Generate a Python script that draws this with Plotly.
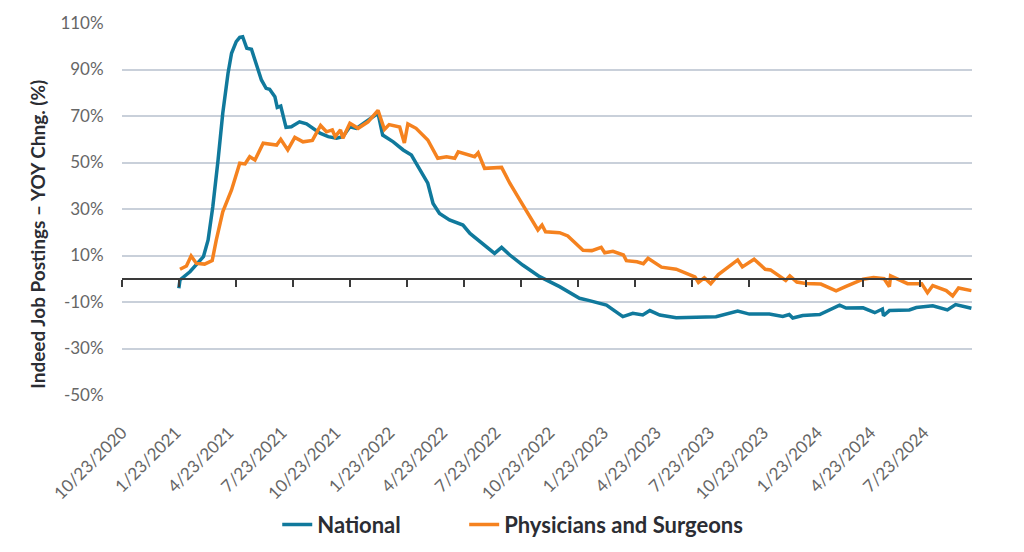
"""Indeed job postings, YoY change: national vs. physicians and surgeons."""
import plotly.graph_objects as go

# Werte (Stuetzpunkte der Linien)
national_dates = [
    "2021-01-28", "2021-01-30", "2021-02-16", "2021-03-11", "2021-03-19", "2021-03-27",
    "2021-04-05", "2021-04-13", "2021-04-22", "2021-04-28", "2021-05-06", "2021-05-12",
    "2021-05-17", "2021-05-24", "2021-06-01", "2021-06-09", "2021-06-18", "2021-06-26",
    "2021-07-02", "2021-07-11", "2021-07-15", "2021-07-21", "2021-07-30", "2021-08-08",
    "2021-08-22", "2021-09-03", "2021-09-14", "2021-09-26", "2021-10-10", "2021-10-24",
    "2021-11-04", "2021-11-16", "2021-11-27", "2021-12-14", "2021-12-31", "2022-01-03",
    "2022-01-11", "2022-01-29", "2022-02-15", "2022-03-01", "2022-03-09", "2022-03-18",
    "2022-03-29", "2022-04-07", "2022-04-18", "2022-05-05", "2022-05-28", "2022-06-09",
    "2022-07-01", "2022-07-21", "2022-08-02", "2022-08-16", "2022-09-07", "2022-10-06",
    "2022-11-09", "2022-12-13", "2022-12-30", "2023-01-28", "2023-02-25", "2023-03-14",
    "2023-03-31", "2023-04-12", "2023-04-29", "2023-05-27", "2023-06-30", "2023-08-03",
    "2023-09-09", "2023-09-29", "2023-11-02", "2023-11-25", "2023-12-06", "2023-12-12",
    "2023-12-29", "2024-01-27", "2024-03-01", "2024-03-12", "2024-04-10", "2024-04-30",
    "2024-05-13", "2024-05-15", "2024-05-25", "2024-06-28", "2024-07-10", "2024-08-07",
    "2024-09-01", "2024-09-15", "2024-10-12",
]
national_values = [
    -4.1, -0.5, 3.0, 9.5, 16.7, 31.0,
    51.1, 71.2, 88.4, 97.0, 102.0, 103.8,
    104.1, 99.1, 98.7, 92.7, 85.5, 81.9,
    81.5, 78.3, 73.7, 74.3, 65.1, 65.4,
    67.5, 66.6, 64.7, 62.6, 61.1, 60.4,
    61.1, 65.4, 64.7, 67.5, 70.4, 71.2,
    61.8, 58.9, 55.4, 53.2, 49.7, 46.0,
    41.1, 32.4, 28.1, 25.3, 23.1, 19.5,
    15.2, 10.9, 13.5, 10.2, 5.9, 0.9,
    -3.4, -8.4, -9.4, -11.3, -16.3, -14.9,
    -15.6, -13.7, -15.6, -16.8, -16.6, -16.3,
    -13.9, -15.2, -15.2, -16.2, -15.4, -16.9,
    -15.8, -15.4, -11.4, -12.6, -12.5, -14.6,
    -13.0, -15.9, -13.7, -13.4, -12.4, -11.6,
    -13.4, -11.1, -12.7,
]

physician_dates = [
    "2021-01-30", "2021-02-10", "2021-02-18", "2021-02-27", "2021-03-13", "2021-03-26",
    "2021-04-02", "2021-04-13", "2021-04-28", "2021-05-12", "2021-05-21", "2021-05-29",
    "2021-06-07", "2021-06-21", "2021-07-14", "2021-07-21", "2021-08-02", "2021-08-14",
    "2021-08-28", "2021-09-13", "2021-09-27", "2021-10-07", "2021-10-17", "2021-10-22",
    "2021-10-31", "2021-11-04", "2021-11-16", "2021-11-30", "2021-12-17", "2022-01-03",
    "2022-01-14", "2022-01-22", "2022-02-09", "2022-02-17", "2022-02-23", "2022-03-09",
    "2022-03-29", "2022-04-15", "2022-04-30", "2022-05-14", "2022-05-20", "2022-06-03",
    "2022-06-17", "2022-06-23", "2022-07-04", "2022-08-02", "2022-08-16", "2022-09-02",
    "2022-09-13", "2022-10-03", "2022-10-10", "2022-10-16", "2022-11-09", "2022-11-23",
    "2022-12-19", "2023-01-03", "2023-01-19", "2023-01-25", "2023-02-08", "2023-02-26",
    "2023-03-03", "2023-03-21", "2023-04-01", "2023-04-09", "2023-05-02", "2023-05-27",
    "2023-06-28", "2023-07-04", "2023-07-14", "2023-07-25", "2023-08-07", "2023-09-09",
    "2023-09-17", "2023-10-07", "2023-10-26", "2023-11-04", "2023-11-30", "2023-12-07",
    "2023-12-19", "2024-01-03", "2024-01-29", "2024-02-24", "2024-03-12", "2024-04-10",
    "2024-04-28", "2024-05-16", "2024-05-25", "2024-05-27", "2024-06-25", "2024-07-19",
    "2024-07-29", "2024-08-07", "2024-08-30", "2024-09-10", "2024-09-20", "2024-10-12",
]
physician_values = [
    4.1, 5.5, 9.8, 6.6, 6.3, 7.8,
    16.7, 28.8, 38.2, 49.7, 49.4, 52.5,
    51.1, 58.3, 57.5, 60.0, 55.4, 60.8,
    58.9, 59.5, 65.9, 63.2, 64.0, 61.1,
    64.0, 60.4, 66.9, 64.7, 67.5, 72.4,
    64.2, 66.3, 65.3, 58.4, 66.6, 64.7,
    59.7, 51.8, 52.5, 51.8, 54.6, 53.7,
    52.5, 54.2, 47.5, 47.9, 41.1, 33.9,
    29.1, 21.0, 23.1, 20.2, 19.8, 18.4,
    12.2, 12.1, 13.5, 11.2, 11.8, 10.2,
    7.8, 7.3, 6.5, 8.8, 5.0, 4.1,
    0.8, -1.6, 0.4, -2.1, 1.8, 8.1,
    5.1, 8.4, 4.1, 3.8, -0.7, 1.2,
    -1.4, -2.0, -2.3, -5.2, -3.3, -0.2,
    0.5, 0.0, -3.4, 1.2, -2.1, -2.1,
    -6.0, -2.9, -5.1, -7.4, -4.0, -5.1,
]

y_ticks = [-50, -30, -10, 10, 30, 50, 70, 90, 110]
y_labels = [f"{v}%" for v in y_ticks]
x_range = ["2020-10-23", "2024-10-13"]
y_title = "Indeed Job Postings – YOY Chng. (%)"

TEAL = "#10799c"
ORANGE = "#f5821f"
GRID = "#c9d0da"
AXIS = "#3a3a3a"
FONT = "Lato, 'Open Sans', sans-serif"

fig = go.Figure()
fig.add_trace(go.Scatter(
    x=national_dates, y=national_values, mode="lines", name="National",
    line=dict(color=TEAL, width=3.5), legend="legend",
))
fig.add_trace(go.Scatter(
    x=physician_dates, y=physician_values, mode="lines", name="Physicians and Surgeons",
    line=dict(color=ORANGE, width=3.5), legend="legend2",
))
# unsichtbarer Trace, damit die Null-Achse (x2) gezeichnet wird
fig.add_trace(go.Scatter(
    x=national_dates[:1], y=[None], xaxis="x2", showlegend=False, hoverinfo="skip",
))

legend_font = dict(size=22, color="#2b2d33", weight="bold")

fig.update_layout(
    width=1016, height=544,
    paper_bgcolor="white", plot_bgcolor="white",
    font=dict(family=FONT, size=17, color="#666666"),
    # feste Raender, sonst schiebt Plotly die Plotflaeche zusammen
    margin=dict(l=114, r=52, t=15, b=157, autoexpand=False),
    xaxis=dict(
        type="date", range=x_range, automargin=False,
        tick0="2020-10-23", dtick="M3", tickformat="%-m/%d/%Y",
        tickangle=-45, ticks="outside", ticklen=20, tickcolor="rgba(0,0,0,0)",
        showgrid=False, showline=False, zeroline=False,
        tickfont=dict(size=17, color="#666666"),
    ),
    xaxis2=dict(
        type="date", matches="x", overlaying="x", anchor="free", position=0.3125,
        tick0="2020-10-23", dtick=97.3 * 86400000, automargin=False,
        showticklabels=False, ticks="outside", ticklen=7, tickwidth=1.5,
        tickcolor=AXIS, showline=True, linecolor=AXIS, linewidth=1.5,
        showgrid=False, zeroline=False,
    ),
    yaxis=dict(
        range=[-50, 110], tickvals=y_ticks, ticktext=y_labels, automargin=False,
        showgrid=True, gridcolor=GRID, gridwidth=2, zeroline=False, showline=False,
        ticks="outside", ticklen=14, tickcolor="rgba(0,0,0,0)",
        tickfont=dict(size=17, color="#666666"),
    ),
    annotations=[dict(
        text=f"<b>{y_title}</b>", textangle=-90, showarrow=False,
        xref="paper", yref="paper", x=-0.099, y=0.433,
        xanchor="center", yanchor="middle",
        font=dict(size=19, color="#2b2d33"),
    )],
    legend=dict(xref="container", yref="container", x=0.265, xanchor="left",
                y=0.05, yanchor="middle", font=legend_font),
    legend2=dict(xref="container", yref="container", x=0.449, xanchor="left",
                 y=0.05, yanchor="middle", font=legend_font),
    showlegend=True,
)

fig.write_html("out.html")
